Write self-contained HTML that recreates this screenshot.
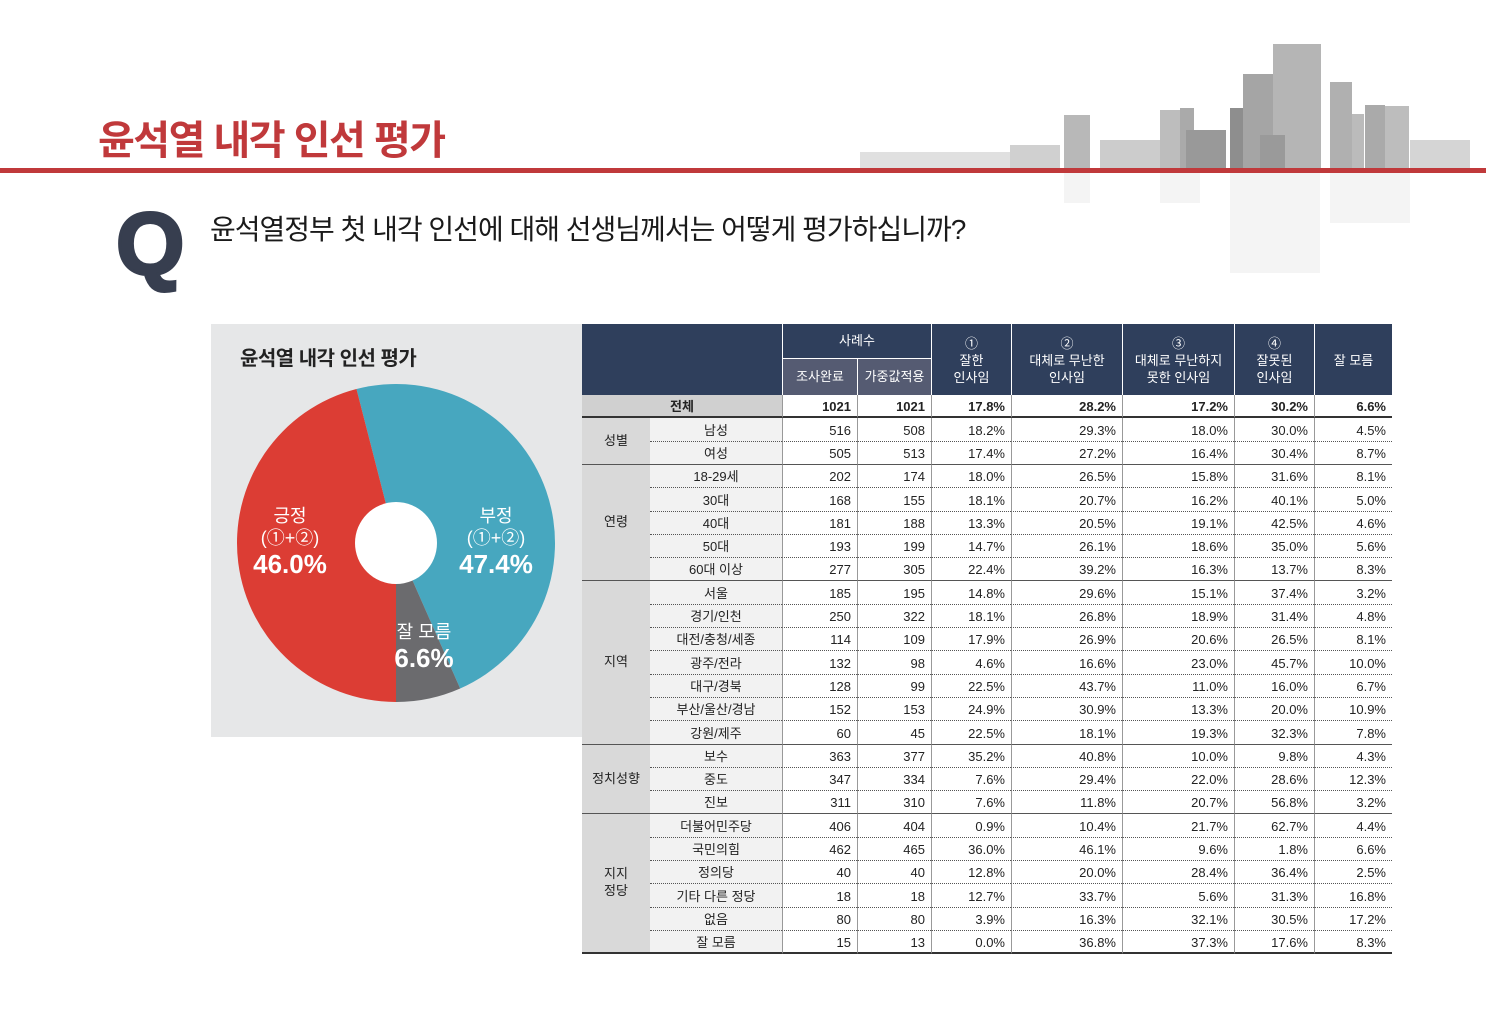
<!DOCTYPE html>
<html><head><meta charset="utf-8">
<style>
body{margin:0;width:1486px;height:1022px;background:#fff;position:relative;overflow:hidden;font-family:"Liberation Sans","Noto Sans CJK KR",sans-serif;}
.a{position:absolute;}
.c{position:absolute;display:flex;align-items:center;justify-content:center;text-align:center;box-sizing:border-box;font-size:13px;color:#222;line-height:1.3}
.r{justify-content:flex-end;padding-right:6px}
</style></head><body>
<svg class="a" style="left:0;top:0" width="1486" height="320">
<g fill="#c9c9c9">
<rect x="1064" y="115" width="26" height="55" fill="#b8b8b8"/>
<rect x="1160" y="110" width="22" height="60" fill="#bdbdbd"/>
<rect x="1180" y="108" width="14" height="62" fill="#aaa"/>
<rect x="1230" y="108" width="30" height="62" fill="#8e8e8e"/>
<rect x="1243" y="74" width="30" height="96" fill="#a5a5a5"/>
<rect x="1273" y="44" width="48" height="126" fill="#b5b5b5"/>
<rect x="1260" y="135" width="25" height="35" fill="#9a9a9a"/>
<rect x="1330" y="82" width="22" height="88" fill="#b0b0b0"/>
<rect x="1352" y="114" width="12" height="56" fill="#bbb"/>
<rect x="1365" y="105" width="20" height="65" fill="#aaa"/>
<rect x="1385" y="106" width="24" height="64" fill="#bdbdbd"/>
<rect x="1186" y="130" width="40" height="40" fill="#999"/>
<rect x="1410" y="140" width="60" height="30" fill="#d5d5d5"/>
<rect x="1100" y="140" width="60" height="30" fill="#ccc"/>
<rect x="1010" y="145" width="50" height="25" fill="#d0d0d0"/>
<rect x="860" y="152" width="150" height="18" fill="#e0e0e0"/>
</g>
<g fill="#f4f4f4">
<rect x="1064" y="173" width="26" height="30"/>
<rect x="1230" y="173" width="90" height="100"/>
<rect x="1330" y="173" width="80" height="50"/>
<rect x="1160" y="173" width="40" height="30"/>
</g>
<rect x="0" y="168" width="1486" height="5" fill="#c0393b"/>
</svg>
<div class="a" style="left:98px;top:108px;font-size:40px;font-weight:bold;color:#c0393b;letter-spacing:-1.5px">윤석열 내각 인선 평가</div>
<div class="a" style="left:116px;top:194px;font-size:88px;font-weight:bold;color:#373e4f;line-height:100px;-webkit-text-stroke:3px #373e4f">Q</div>
<div class="a" style="left:210px;top:208px;font-size:28px;color:#1a1a1a;letter-spacing:-1px">윤석열정부 첫 내각 인선에 대해 선생님께서는 어떻게 평가하십니까?</div>

<div class="a" style="left:211px;top:324px;width:371px;height:413px;background:#e6e7e8"></div>
<div class="a" style="left:240px;top:342px;font-size:20px;font-weight:bold;color:#222;letter-spacing:-0.5px">윤석열 내각 인선 평가</div>
<svg class="a" id="pie" style="left:211px;top:324px" width="371" height="413"></svg>
<div class="c" style="left:238px;top:505px;width:104px;flex-direction:column;color:#fff;font-size:18px;line-height:22px">긍정<br>(①+②)<span style="font-size:26px;font-weight:bold;line-height:30px">46.0%</span></div>
<div class="c" style="left:444px;top:505px;width:104px;flex-direction:column;color:#fff;font-size:18px;line-height:22px">부정<br>(①+②)<span style="font-size:26px;font-weight:bold;line-height:30px">47.4%</span></div>
<div class="c" style="left:378px;top:621px;width:92px;flex-direction:column;color:#fff;font-size:18px;line-height:22px">잘 모름<span style="font-size:26px;font-weight:bold;line-height:30px">6.6%</span></div>

<div id="t"></div>
<script>
(function(){
var s=document.getElementById('pie');var cx=185,cy=219,R=159;
function P(a,r){a=(a-90)*Math.PI/180;return [cx+r*Math.cos(a),cy+r*Math.sin(a)];}
function seg(a0,a1,c){var p0=P(a0,R),p1=P(a1,R);var l=(a1-a0)>180?1:0;
s.innerHTML+='<path d="M'+cx+','+cy+'L'+p0+'A'+R+','+R+' 0 '+l+' 1 '+p1+'Z" fill="'+c+'"/>';}
seg(-14.4,156.2,'#47a7bf');seg(156.2,180,'#6b6b6e');seg(180,345.6,'#dc3d34');
s.innerHTML+='<circle cx="'+cx+'" cy="'+cy+'" r="41" fill="#fff"/>';
})();
var X=[582,650,782,857,931,1011,1122,1234,1314,1392];
var H='';
function box(x,y,w,h,st,txt,cls){H+='<div class="c '+(cls||'')+'" style="left:'+x+'px;top:'+y+'px;width:'+w+'px;height:'+h+'px;'+st+'">'+txt+'</div>';}
var hb='background:#2f3f5c;color:#fff;';
box(582,324,200,71,hb,'');
box(782,324,149,34,hb+'border-left:1px solid #fff;','사례수');
box(782,358,75,37,'background:#555b72;color:#fff;border-left:1px solid #fff;border-top:1px solid #fff;','조사완료');
box(857,358,74,37,'background:#555b72;color:#fff;border-left:1px solid #fff;border-top:1px solid #fff;','가중값적용');
var hd=['①<br>잘한<br>인사임','②<br>대체로 무난한<br>인사임','③<br>대체로 무난하지<br>못한 인사임','④<br>잘못된<br>인사임','잘 모름'];
for(var i=0;i<5;i++)box(X[i+4],324,X[i+5]-X[i+4],71,hb+'border-left:1px solid #fff;padding-top:4px;',hd[i]);
var rows=[
['전체',1021,1021,'17.8%','28.2%','17.2%','30.2%','6.6%'],
['남성',516,508,'18.2%','29.3%','18.0%','30.0%','4.5%'],['여성',505,513,'17.4%','27.2%','16.4%','30.4%','8.7%'],
['18-29세',202,174,'18.0%','26.5%','15.8%','31.6%','8.1%'],['30대',168,155,'18.1%','20.7%','16.2%','40.1%','5.0%'],['40대',181,188,'13.3%','20.5%','19.1%','42.5%','4.6%'],['50대',193,199,'14.7%','26.1%','18.6%','35.0%','5.6%'],['60대 이상',277,305,'22.4%','39.2%','16.3%','13.7%','8.3%'],
['서울',185,195,'14.8%','29.6%','15.1%','37.4%','3.2%'],['경기/인천',250,322,'18.1%','26.8%','18.9%','31.4%','4.8%'],['대전/충청/세종',114,109,'17.9%','26.9%','20.6%','26.5%','8.1%'],['광주/전라',132,98,'4.6%','16.6%','23.0%','45.7%','10.0%'],['대구/경북',128,99,'22.5%','43.7%','11.0%','16.0%','6.7%'],['부산/울산/경남',152,153,'24.9%','30.9%','13.3%','20.0%','10.9%'],['강원/제주',60,45,'22.5%','18.1%','19.3%','32.3%','7.8%'],
['보수',363,377,'35.2%','40.8%','10.0%','9.8%','4.3%'],['중도',347,334,'7.6%','29.4%','22.0%','28.6%','12.3%'],['진보',311,310,'7.6%','11.8%','20.7%','56.8%','3.2%'],
['더불어민주당',406,404,'0.9%','10.4%','21.7%','62.7%','4.4%'],['국민의힘',462,465,'36.0%','46.1%','9.6%','1.8%','6.6%'],['정의당',40,40,'12.8%','20.0%','28.4%','36.4%','2.5%'],['기타 다른 정당',18,18,'12.7%','33.7%','5.6%','31.3%','16.8%'],['없음',80,80,'3.9%','16.3%','32.1%','30.5%','17.2%'],['잘 모름',15,13,'0.0%','36.8%','37.3%','17.6%','8.3%']];
var groups=[['성별',1,2],['연령',3,7],['지역',8,14],['정치성향',15,17],['지지<br>정당',18,23]];
var top0=395,rh=23.3;
function Y(i){return Math.round(top0+i*rh);}
var gEnd={0:1,2:1,7:1,14:1,17:1,23:1};
for(var i=0;i<rows.length;i++){
 var y=Y(i),h=Y(i+1)-y,r=rows[i];
 var bb=(i==23)?'border-bottom:2px solid #333;':(gEnd[i]?'border-bottom:1px solid #555;':'border-bottom:1px dotted #555;');
 var fw=(i==0?'font-weight:bold;':'')+'padding-top:3px;';
 if(i==0)box(582,y,200,h,'background:#d0d0d0;border-bottom:2px solid #333;'+fw,r[0]);
 else box(650,y,132,h,'background:#f2f2f2;'+bb+fw,r[0]);
 for(var j=1;j<8;j++)box(X[j+1],y,X[j+2]-X[j+1],h,'background:#fff;border-left:1px solid #999;'+(i==0?'border-bottom:2px solid #333;':bb)+fw,r[j],'r');
}
groups.forEach(function(g){var y=Y(g[1]),h=Y(g[2]+1)-y;box(582,y,68,h,'background:#d9d9d9;border-bottom:'+(g[2]==23?'2px solid #333':'1px solid #555')+';',g[0]);});
document.getElementById('t').innerHTML=H;
</script>
</body></html>
